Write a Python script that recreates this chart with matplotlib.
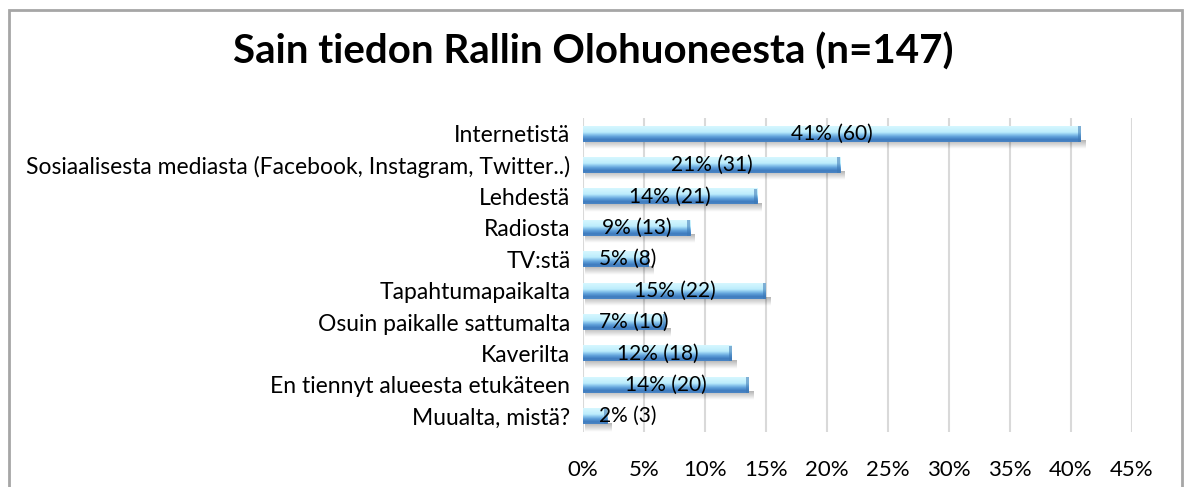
import numpy as np
import matplotlib
matplotlib.use("Agg")
import matplotlib.pyplot as plt
from matplotlib.colors import LinearSegmentedColormap
from matplotlib.patches import Rectangle

TITLE = "Sain tiedon Rallin Olohuoneesta (n=147)"
categories = [
    "Internetistä",
    "Sosiaalisesta mediasta (Facebook, Instagram, Twitter..)",
    "Lehdestä",
    "Radiosta",
    "TV:stä",
    "Tapahtumapaikalta",
    "Osuin paikalle sattumalta",
    "Kaverilta",
    "En tiennyt alueesta etukäteen",
    "Muualta, mistä?",
]
percents = [40.8, 21.1, 14.3, 8.8, 5.4, 15.0, 6.8, 12.2, 13.6, 2.0]
counts = [60, 31, 21, 13, 8, 22, 10, 18, 20, 3]
bar_labels = ["41% (60)", "21% (31)", "14% (21)", "9% (13)", "5% (8)",
              "15% (22)", "7% (10)", "12% (18)", "14% (20)", "2% (3)"]
xticks = [0, 5, 10, 15, 20, 25, 30, 35, 40, 45]

plt.rcParams["font.family"] = ["Lato", "DejaVu Sans"]

W, H = 1187, 487
fig = plt.figure(figsize=(W / 100, H / 100), dpi=100)

# outer chart border (bottom edge is cut off in the reference)
fig.patches.append(Rectangle((9 / W, -0.05), (1182 - 9) / W, 1 - 10 / H + 0.05,
                             transform=fig.transFigure, fill=False,
                             edgecolor="#A6A6A6", linewidth=2))

fig.text(593 / W, 1 - 52 / H, TITLE, ha="center", va="center",
         fontsize=29, fontweight="bold", color="black")

ax = fig.add_axes([583 / W, 1 - 432 / H, (1132 - 583) / W, (432 - 118) / H])
n = len(categories)
y = np.arange(n)

for xv in xticks:
    ax.axvline(xv, color="#D9D9D9", linewidth=1.5, zorder=0)

# cylinder-like gradient for the bars
cmap = LinearSegmentedColormap.from_list("bar", [
    (0.0, "#D6F7FF"), (0.38, "#BDEDFC"), (0.52, "#8CC8EE"),
    (0.68, "#5C9DD7"), (0.86, "#3E7BBE"), (1.0, "#4B86C5")])
grad = np.linspace(0, 1, 64).reshape(-1, 1)
# soft grey shadow fading downwards
shadow = np.zeros((32, 1, 4))
shadow[:, 0, 3] = np.linspace(0.30, 0.0, 32)
bh = 0.5
sh = 0.24
for yi, p in zip(y, percents):
    ax.imshow(shadow, aspect="auto", interpolation="bilinear",
              extent=(0.15, p + 0.35, yi + bh / 2 + sh, yi + bh / 2 - 0.02), zorder=1)
    ax.imshow(grad, cmap=cmap, aspect="auto", interpolation="bilinear",
              extent=(0, p, yi + bh / 2, yi - bh / 2), zorder=2)
    # darker cap at the bar end
    ax.add_patch(Rectangle((p - 0.25, yi - bh / 2), 0.25, bh, facecolor="#3C78B4",
                           alpha=0.55, edgecolor="none", zorder=3))

ax.set_xlim(0, 45)
ax.set_ylim(n - 0.5, -0.5)

# centred labels; short bars push the label right so it stays inside the plot
renderer = fig.canvas.get_renderer()
min_left = ax.transData.transform((1.3, 0))[0]
for yi, p, lab in zip(y, percents, bar_labels):
    t = ax.text(p / 2, yi, lab, ha="center", va="center",
                fontsize=15, color="black", zorder=4)
    bb = t.get_window_extent(renderer)
    if bb.x0 < min_left:
        t.set_x(1.3)
        t.set_ha("left")

ax.set_yticks(y)
ax.set_yticklabels(categories, fontsize=16.5)
ax.set_xticks(xticks)
ax.set_xticklabels([f"{v}%" for v in xticks], fontsize=16)
ax.tick_params(axis="both", length=0)
ax.tick_params(axis="x", pad=20)
ax.tick_params(axis="y", pad=9)
for s in ax.spines.values():
    s.set_visible(False)

fig.savefig("out.png", dpi=100)
